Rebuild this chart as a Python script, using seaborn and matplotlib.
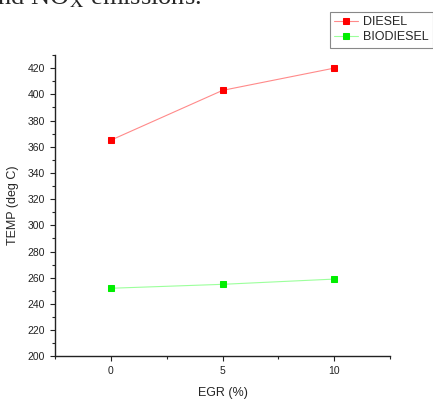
import pandas as pd
import numpy as np
import seaborn as sns
import matplotlib.pyplot as plt
from matplotlib.ticker import MultipleLocator

# EGR vs exhaust temperature
egr = [0, 5, 10]
diesel_temp = [365, 403, 420]
biodiesel_temp = [252, 255, 259]
series_names = ['DIESEL', 'BIODIESEL']

sns.set_style('ticks')
plt.rcParams['font.family'] = ['Liberation Sans', 'DejaVu Sans']
plt.rcParams['mathtext.fontset'] = 'stix'

data = pd.DataFrame({'EGR': egr * 2,
                     'TEMP': diesel_temp + biodiesel_temp,
                     'fuel': [series_names[0]] * 3 + [series_names[1]] * 3})

fig = plt.figure(figsize=(4.33, 4.0), dpi=100)
ax = fig.add_axes([0.127, 0.109, 0.774, 0.7535])

styles = {'DIESEL': ('#ff8a8a', '#ff0000'), 'BIODIESEL': ('#9cff9c', '#00ee00')}
for name in series_names:
    line_col, mark_col = styles[name]
    sns.lineplot(data=data[data['fuel'] == name], x='EGR', y='TEMP', ax=ax,
                 color=line_col, linewidth=0.8, marker='s', markersize=4.5,
                 markerfacecolor=mark_col, markeredgecolor=mark_col, label=name)

ax.set_xlim(-2.5, 12.5)
ax.set_ylim(200, 430)
ax.set_xticks([0, 5, 10])
ax.xaxis.set_minor_locator(MultipleLocator(2.5))
ax.set_yticks(np.arange(200, 421, 20))
ax.yaxis.set_minor_locator(MultipleLocator(10))
ax.tick_params(which='major', length=3.5, width=0.8, labelsize=7.5, colors='#222222')
ax.tick_params(which='minor', length=2, width=0.8)
for s in ['left', 'bottom']:
    ax.spines[s].set_linewidth(1.0)
    ax.spines[s].set_color('#222222')
sns.despine(ax=ax)
ax.set_xlabel('EGR (%)', fontsize=9, labelpad=8)
ax.set_ylabel('TEMP (deg C)', fontsize=9, labelpad=6)

ax.get_legend().remove()
handles, labels = ax.get_legend_handles_labels()
leg = fig.legend(handles, labels, loc='upper right', bbox_to_anchor=(1.0, 1 - 12 / 400),
                 borderaxespad=0, fontsize=9, handlelength=1.9, handletextpad=0.4,
                 labelspacing=0.25, borderpad=0.35, fancybox=False, framealpha=1)
leg.get_frame().set_edgecolor('#888888')
leg.get_frame().set_linewidth(0.8)

# clipped caption line from the source document
fig.text(-0.033, 1 - 4 / 400, 'and NO$_\\mathrm{X}$ emissions.', fontsize=19,
         family=['Liberation Serif', 'DejaVu Serif'], va='baseline', ha='left')

fig.savefig('out.png', dpi=100)
